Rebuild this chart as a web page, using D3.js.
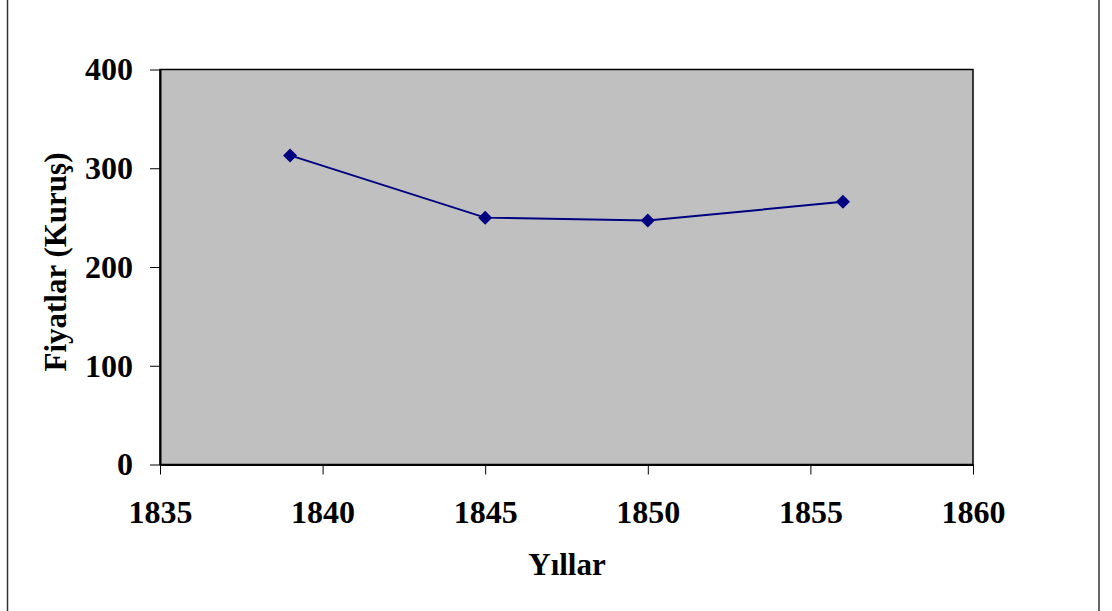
<!DOCTYPE html>
<html><head><meta charset="utf-8">
<script src="https://cdn.jsdelivr.net/npm/d3@7"></script>
<style>html,body{margin:0;padding:0;background:#fff;}</style>
</head><body>
<script>
const years = [1839, 1845, 1850, 1856];
const prices = [313, 250, 247, 266];
const xTicks = [1835, 1840, 1845, 1850, 1855, 1860];
const yTicks = [0, 100, 200, 300, 400];
const xTitle = "Yıllar";
const yTitle = "Fiyatlar (Kuruş)";

const W = 1112, H = 611;
const L = 160, R = 973, T = 69.5, B = 464.5;
const svg = d3.select("body").append("svg").attr("width", W).attr("height", H);
const font = "'Liberation Serif','Times New Roman',serif";

// outer chart border
svg.append("rect").attr("x", 7.5).attr("y", -5).attr("width", 1091.5).attr("height", H + 10)
  .attr("fill", "none").attr("stroke", "#333").attr("stroke-width", 1.5);

const x = d3.scaleLinear().domain([1835, 1860]).range([L, R]);
const y = d3.scaleLinear().domain([0, 400]).range([B, T]);

svg.append("rect").attr("x", L).attr("y", T).attr("width", R - L).attr("height", B - T)
  .attr("fill", "#c0c0c0").attr("stroke", "#000").attr("stroke-width", 1.5);

const xAxis = svg.append("g").attr("transform", `translate(0,${B})`)
  .call(d3.axisBottom(x).tickValues(xTicks).tickFormat(d3.format("d")).tickSize(10).tickSizeOuter(0).tickPadding(26));
xAxis.select(".domain").attr("stroke", "#000").attr("stroke-width", 2);
xAxis.selectAll(".tick line").attr("stroke", "#000").attr("stroke-width", 1);
xAxis.selectAll(".tick text").attr("font-family", font).attr("font-weight", "bold").attr("font-size", 32).attr("fill", "#000");

const yAxis = svg.append("g").attr("transform", `translate(${L},0)`)
  .call(d3.axisLeft(y).tickValues(yTicks).tickFormat(d3.format("d")).tickSize(10).tickSizeOuter(0).tickPadding(17));
yAxis.select(".domain").attr("stroke", "#000").attr("stroke-width", 2);
yAxis.selectAll(".tick line").attr("stroke", "#000").attr("stroke-width", 1);
yAxis.selectAll(".tick text").attr("font-family", font).attr("font-weight", "bold").attr("font-size", 32).attr("fill", "#000");

const data = years.map((d, i) => ({x: d, y: prices[i]}));
svg.append("path").datum(data)
  .attr("d", d3.line().x(d => x(d.x)).y(d => y(d.y)))
  .attr("fill", "none").attr("stroke", "#000080").attr("stroke-width", 2);

svg.selectAll(".pt").data(data).enter().append("path")
  .attr("transform", d => `translate(${x(d.x)},${y(d.y)})`)
  .attr("d", "M0,-7L7,0L0,7L-7,0Z").attr("fill", "#000080");

svg.append("text").attr("x", 567).attr("y", 575).attr("text-anchor", "middle")
  .attr("font-family", font).attr("font-weight", "bold").attr("font-size", 31).text(xTitle);

svg.append("text").attr("transform", "translate(66,262) rotate(-90)").attr("text-anchor", "middle")
  .attr("font-family", font).attr("font-weight", "bold").attr("font-size", 31).text(yTitle);
</script>
</body></html>
